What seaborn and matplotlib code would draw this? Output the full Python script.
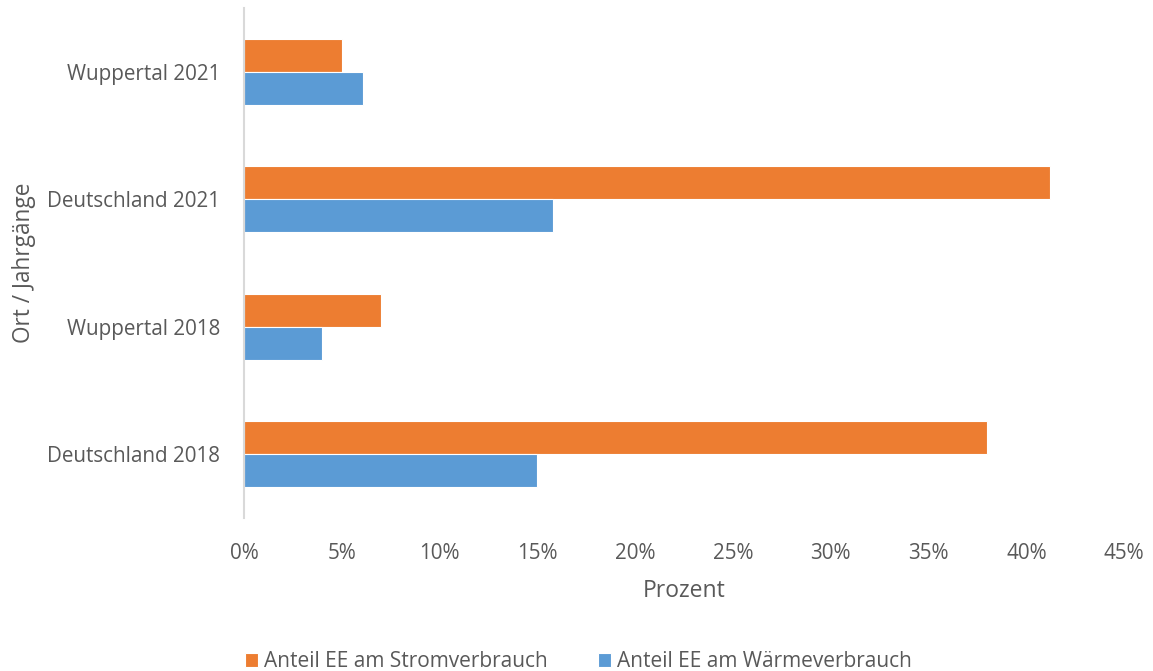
import pandas as pd
import seaborn as sns
import matplotlib.pyplot as plt
from matplotlib.ticker import PercentFormatter

places = ['Wuppertal 2021', 'Deutschland 2021', 'Wuppertal 2018', 'Deutschland 2018']
strom = [5.0, 41.2, 7.0, 38.0]
waerme = [6.1, 15.8, 4.0, 15.0]
series = ['Anteil EE am Stromverbrauch', 'Anteil EE am Wärmeverbrauch']

d = pd.DataFrame({'Ort': places * 2,
                  'Wert': strom + waerme,
                  'Serie': [series[0]] * 4 + [series[1]] * 4})

sns.set_style('white')
plt.rcParams['font.family'] = ['Open Sans', 'DejaVu Sans']
grey = '#595959'

fig = plt.figure(figsize=(11.53, 6.71), dpi=100)
ax = fig.add_axes([0.2116, 0.228, 0.7634, 0.76])
sns.barplot(data=d, y='Ort', x='Wert', hue='Serie', order=places, hue_order=series,
            palette=['#ED7D31', '#5B9BD5'], saturation=1, width=0.52, orient='h',
            edgecolor='white', linewidth=0.8, ax=ax)

ax.set_xlim(0, 45)
ax.set_xticks(range(0, 46, 5))
ax.xaxis.set_major_formatter(PercentFormatter(decimals=0))
ax.tick_params(axis='both', length=0, labelsize=14.9, colors=grey)
ax.tick_params(axis='y', pad=17)
ax.tick_params(axis='x', pad=18)
for s in ['top', 'right', 'bottom']:
    ax.spines[s].set_visible(False)
ax.spines['left'].set_color('#D9D9D9')
ax.spines['left'].set_linewidth(1.5)
ax.set_xlabel('Prozent', fontsize=16.5, color=grey, labelpad=11)
ax.set_ylabel('Ort / Jahrgänge', fontsize=16.3, color=grey, labelpad=8)

ax.legend(loc='center', bbox_to_anchor=(0.38, -0.282), ncol=2, frameon=False,
          fontsize=15, labelcolor=grey, handlelength=0.62, handleheight=0.62,
          handletextpad=0.29, columnspacing=2.45)

plt.savefig('out.png', dpi=100)
